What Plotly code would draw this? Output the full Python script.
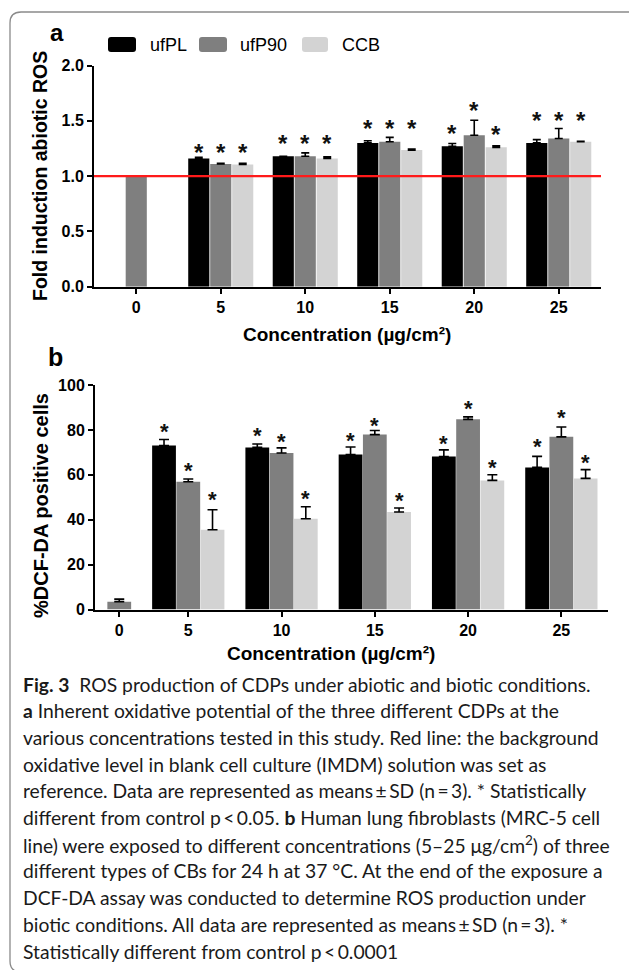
import numpy as np
import plotly.graph_objects as go

W, H = 629, 970

# ---------------- data ----------------
concentrations = ["0", "5", "10", "15", "20", "25"]
series_names = ["ufPL", "ufP90", "CCB"]

# panel a: fold induction abiotic ROS (control only in ufP90 slot)
a_ufPL = [None, 1.16, 1.18, 1.30, 1.27, 1.30]
a_ufPL_sd = [None, 0.01, 0.00, 0.02, 0.025, 0.03]
a_ufP90 = [1.00, 1.11, 1.18, 1.31, 1.37, 1.34]
a_ufP90_sd = [0.0, 0.005, 0.03, 0.04, 0.135, 0.09]
a_CCB = [None, 1.105, 1.16, 1.235, 1.26, 1.31]
a_CCB_sd = [None, 0.01, 0.015, 0.01, 0.015, 0.004]
a_star_ufPL = [None, 1.262, 1.343, 1.481, 1.439, 1.552]
a_star_ufP90 = [None, 1.262, 1.343, 1.481, 1.641, 1.552]
a_star_CCB = [None, 1.262, 1.343, 1.481, 1.425, 1.552]
a_reference = 1.0

# panel b: % DCF-DA positive cells
b_ufPL = [None, 73.0, 72.2, 69.0, 68.1, 63.3]
b_ufPL_sd = [None, 2.7, 1.5, 3.4, 3.0, 4.9]
b_ufP90 = [3.5, 56.9, 69.7, 77.9, 84.7, 76.9]
b_ufP90_sd = [1.1, 1.2, 2.3, 1.8, 1.1, 4.4]
b_CCB = [None, 35.5, 40.4, 43.4, 57.5, 58.4]
b_CCB_sd = [None, 8.9, 5.4, 1.8, 2.5, 3.9]
b_star_ufPL = [None, 81.6, 79.8, 77.6, 76.1, 74.9]
b_star_ufP90 = [None, 64.1, 77.1, 84.3, 91.6, 87.6]
b_star_CCB = [None, 51.1, 51.6, 50.7, 65.3, 67.8]

colors = ["#000000", "#7f7f7f", "#d3d3d3"]

caption_lines = [
    "<b>Fig. 3</b>  ROS production of CDPs under abiotic and biotic conditions.",
    "<b>a</b> Inherent oxidative potential of the three different CDPs at the",
    "various concentrations tested in this study. Red line: the background",
    "oxidative level in blank cell culture (IMDM) solution was set as",
    "reference. Data are represented as means\u2009\u00b1\u2009SD (n\u2009=\u20093). * Statistically",
    "different from control p\u2009&lt;\u20090.05. <b>b</b> Human lung fibroblasts (MRC-5 cell",
    "line) were exposed to different concentrations (5\u201325 \u03bcg/cm<sup>2</sup>) of three",
    "different types of CBs for 24 h at 37 \u00b0C. At the end of the exposure a",
    "DCF-DA assay was conducted to determine ROS production under",
    "biotic conditions. All data are represented as means\u2009\u00b1\u2009SD (n\u2009=\u20093). *",
    "Statistically different from control p\u2009&lt;\u20090.0001",
]

# ---------------- helpers ----------------
def X(px):
    return px / W


def Y(py):
    return 1 - py / H


def rrect_path(x0, y0, x1, y1, r):
    pts = [
        f"M{X(x0 + r)},{Y(y0)}",
        f"L{X(x1 - r)},{Y(y0)}",
        f"Q{X(x1)},{Y(y0)} {X(x1)},{Y(y0 + r)}",
        f"L{X(x1)},{Y(y1 - r)}",
        f"Q{X(x1)},{Y(y1)} {X(x1 - r)},{Y(y1)}",
        f"L{X(x0 + r)},{Y(y1)}",
        f"Q{X(x0)},{Y(y1)} {X(x0)},{Y(y1 - r)}",
        f"L{X(x0)},{Y(y0 + r)}",
        f"Q{X(x0)},{Y(y0)} {X(x0 + r)},{Y(y0)}",
        "Z",
    ]
    return " ".join(pts)


CHART_FONT = "Liberation Sans, Arial, sans-serif"
CAP_FONT = "Lato, Noto Sans, sans-serif"

fig = go.Figure()

idx = np.arange(len(concentrations), dtype=float)
pos_a = idx.copy()
ctrl_pos_b = 0.26
pos_b = idx.copy()
pos_b[0] = ctrl_pos_b

# panel a bars
wa, pitch_a = 0.25, 0.26
a_vals = [a_ufPL, a_ufP90, a_CCB]
a_sds = [a_ufPL_sd, a_ufP90_sd, a_CCB_sd]
a_stars = [a_star_ufPL, a_star_ufP90, a_star_CCB]
for k in range(3):
    off = (k - 1) * pitch_a - wa / 2
    fig.add_trace(go.Bar(
        x=pos_a, y=a_vals[k], width=wa, offset=off,
        marker=dict(color=colors[k], line=dict(width=0)),
        name=series_names[k], showlegend=False,
        error_y=dict(type="data", symmetric=False, array=a_sds[k],
                     arrayminus=[0] * len(a_sds[k]), color="black",
                     thickness=1.6, width=4),
        xaxis="x", yaxis="y",
    ))

# panel b bars
wb, pitch_b = 0.255, 0.26
b_vals = [b_ufPL, b_ufP90, b_CCB]
b_sds = [b_ufPL_sd, b_ufP90_sd, b_CCB_sd]
b_stars = [b_star_ufPL, b_star_ufP90, b_star_CCB]
for k in range(3):
    off = (k - 1) * pitch_b - wb / 2
    fig.add_trace(go.Bar(
        x=pos_b, y=b_vals[k], width=wb, offset=off,
        marker=dict(color=colors[k], line=dict(width=0)),
        name=series_names[k], showlegend=False,
        error_y=dict(type="data", symmetric=False, array=b_sds[k],
                     arrayminus=[0] * len(b_sds[k]), color="black",
                     thickness=1.6, width=5),
        xaxis="x2", yaxis="y2",
    ))

annotations = []
# asterisks
for k in range(3):
    for i in range(len(concentrations)):
        if a_stars[k][i] is not None:
            annotations.append(dict(
                x=pos_a[i] + (k - 1) * pitch_a, y=a_stars[k][i], xref="x", yref="y",
                text="*", showarrow=False, yshift=-5.5, xanchor="center", yanchor="middle",
                font=dict(family=CHART_FONT, size=24, color="#111", weight="bold")))
        if b_stars[k][i] is not None:
            annotations.append(dict(
                x=pos_b[i] + (k - 1) * pitch_b, y=b_stars[k][i], xref="x2", yref="y2",
                text="*", showarrow=False, yshift=-5, xanchor="center", yanchor="middle",
                font=dict(family=CHART_FONT, size=22, color="#111", weight="bold")))

bold = dict(family=CHART_FONT, color="black", weight="bold")


def label(px, py, text, font, **kw):
    d = dict(x=X(px), y=Y(py), xref="paper", yref="paper", text=text, showarrow=False,
             xanchor="center", yanchor="middle", font=font)
    d.update(kw)
    return d


# panel labels / titles
annotations += [
    label(57, 33, "a", dict(bold, size=24)),
    label(56, 357, "b", dict(bold, size=25)),
    label(40, 176, "Fold induction abiotic ROS", dict(bold, size=19.5), textangle=-90),
    label(41, 506, "%DCF-DA positive cells", dict(bold, size=20), textangle=-90),
    label(347, 334, "Concentration (\u00b5g/cm\u00b2)", dict(bold, size=19)),
    label(331, 653, "Concentration (\u00b5g/cm\u00b2)", dict(bold, size=19)),
]

# manual legend
shapes = []
leg_sw = [(108, 136), (199, 227), (302, 328)]
leg_tx = [148, 238, 340]
for k in range(3):
    shapes.append(dict(type="path", xref="paper", yref="paper",
                       path=rrect_path(leg_sw[k][0], 37, leg_sw[k][1], 52, 3),
                       fillcolor=colors[k], line=dict(width=0)))
    annotations.append(label(leg_tx[k], 45, series_names[k],
                             dict(family=CHART_FONT, size=18, color="black"),
                             xanchor="left"))

# red reference line
shapes.append(dict(type="line", xref="x domain", yref="y", x0=0, x1=1,
                   y0=a_reference, y1=a_reference, line=dict(color="#ff1a1a", width=2.2),
                   layer="above"))

# frame
shapes.append(dict(type="path", xref="paper", yref="paper",
                   path=rrect_path(10, 12, 660, 972, 11),
                   line=dict(color="#8a8a8a", width=1.3), fillcolor="rgba(0,0,0,0)"))

# caption
cap_y0, cap_dy = 684, 26.7
for j, line in enumerate(caption_lines):
    annotations.append(label(21, cap_y0 + j * cap_dy, line,
                             dict(family=CAP_FONT, size=19.3, color="#1a1a1a"),
                             xanchor="left"))

axis_common = dict(showline=True, linecolor="black", linewidth=2, ticks="outside",
                   tickcolor="black", tickwidth=2, ticklen=5, showgrid=False,
                   zeroline=False, automargin=False, tickfont=dict(bold, size=16))

fig.update_layout(
    width=W, height=H, margin=dict(l=0, r=0, t=0, b=0, autoexpand=False),
    paper_bgcolor="white", plot_bgcolor="rgba(0,0,0,0)",
    barmode="overlay", showlegend=False,
    xaxis=dict(axis_common, domain=[X(94), X(601)], range=[-0.5, 5.5],
               tickmode="array", tickvals=pos_a, ticktext=concentrations, anchor="y"),
    yaxis=dict(axis_common, domain=[Y(286.7), Y(65.5)], range=[0, 2.0],
               tickmode="array", tickvals=[0, 0.5, 1.0, 1.5, 2.0],
               ticktext=["0.0", "0.5", "1.0", "1.5", "2.0"], anchor="x"),
    xaxis2=dict(axis_common, domain=[X(95), X(608)], range=[0, 5.5],
                tickmode="array", tickvals=pos_b, ticktext=concentrations, anchor="y2"),
    yaxis2=dict(axis_common, domain=[Y(609.5), Y(385)], range=[0, 100],
                tickmode="array", tickvals=[0, 20, 40, 60, 80, 100], anchor="x2"),
    annotations=annotations, shapes=shapes,
)

fig.write_html(
    "out.html",
    config={"displayModeBar": False},
    post_script="document.body.style.margin='0';document.body.style.overflow='hidden';",
)
